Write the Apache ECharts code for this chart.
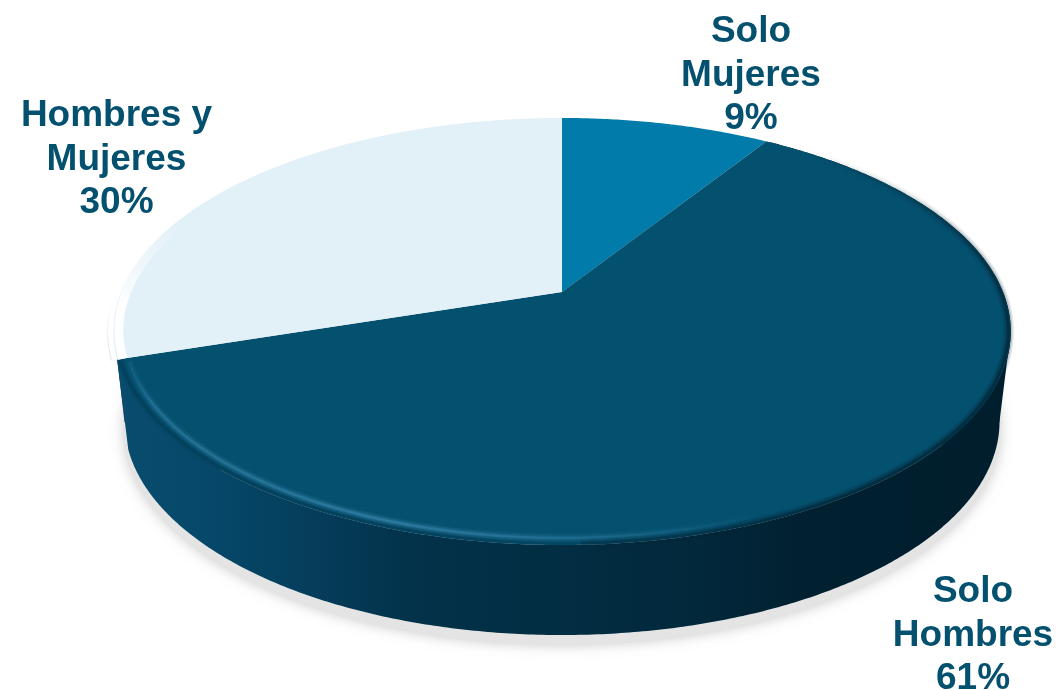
<!DOCTYPE html>
<html><head><meta charset="utf-8">
<style>html,body{margin:0;padding:0;background:#fff}#c{width:1056px;height:690px}</style>
<script src="https://cdn.jsdelivr.net/npm/echarts@6/dist/echarts.min.js"></script>
</head><body><div id="c"></div>
<script>
// Data
var categories = ['Solo\nMujeres', 'Solo\nHombres', 'Hombres y\nMujeres'];
var values = [9, 61, 30];

// Styles and layout (not data)
var sliceColors = ['#007BAA', '#04506F', '#E2F0F8'];
var labelAnchors = [[751, 10.5], [973, 570.5], [116.5, 94.5]];
var textColor = '#04506F';
var cx = 562, cy = 292, A = 441, P = -152.2, R = 0.185, DEPTH = 90, SHRINK = 0.975;

function project(deg, rho) {
  var t = deg * Math.PI / 180, u = rho * Math.sin(t), v = rho * Math.cos(t), w = 1 + R * v;
  return [cx + A * u / w, (P * v + cy) / w];
}
function lower(p) { return [cx + (p[0] - cx) * SHRINK, p[1] + DEPTH]; }
function arc(a0, a1, rho) {
  var pts = [], n = Math.max(2, Math.ceil(Math.abs(a1 - a0) * 2));
  for (var i = 0; i <= n; i++) pts.push(project(a0 + (a1 - a0) * i / n, rho));
  return pts;
}
var total = values.reduce(function (a, b) { return a + b; }, 0);
function range(i) {
  var s = 0;
  for (var k = 0; k < i; k++) s += values[k];
  return [s / total * 360, (s + values[i]) / total * 360];
}
function grad(stops, x0, y0, x1, y1) {
  return { type: 'linear', x: x0, y: y0, x2: x1, y2: y1, global: true,
    colorStops: stops.map(function (s) { return { offset: s[0], color: s[1] }; }) };
}
var wallFill = grad([[0, '#0A4C6E'], [0.1, '#06486A'], [0.2, '#053F5D'], [0.33, '#03324A'],
  [0.5, '#022D42'], [0.65, '#02283B'], [0.78, '#012030'], [1, '#001E2C']], 118, 0, 1010, 0);
var highlight = grad([[0, 'rgba(64,140,180,0.0)'], [0.04, 'rgba(64,140,180,0.55)'], [0.3, 'rgba(64,140,180,0.85)'],
  [0.5, 'rgba(64,140,180,0.5)'], [0.72, 'rgba(64,140,180,0)'], [1, 'rgba(64,140,180,0)']], 118, 0, 1010, 0);
var rimDark = grad([[0, 'rgba(1,30,44,0)'], [0.35, 'rgba(1,30,44,0.25)'], [1, 'rgba(1,30,44,0.85)']], 700, 250, 895, 445);
var rimLeft = grad([[0, 'rgba(3,50,74,0.5)'], [0.6, 'rgba(3,50,74,0.45)'], [1, 'rgba(3,50,74,0)']], 118, 0, 700, 0);
var whiteRim = grad([[0, 'rgba(255,255,255,0)'], [1, 'rgba(255,255,255,0.95)']], 0, 225, 0, 305);
var greyEdge = grad([[0, 'rgba(190,190,190,0)'], [1, 'rgba(190,190,190,0.45)']], 0, 300, 0, 355);

function renderShadow(params) {
  if (params.dataIndex !== 0) return null;
  var pts = arc(0, 360, 1).map(function (p) { var q = lower(p); return [q[0], q[1] + 9]; });
  return { type: 'polygon', shape: { points: pts },
    style: { fill: '#e4e4e4', shadowBlur: 14, shadowColor: 'rgba(170,170,170,0.7)' } };
}
function renderWall(params) {
  var i = params.dataIndex, r = range(i);
  if (i !== 1) return null; // only the front slice shows a wall
  var top = arc(r[0], r[1], 1), bot = top.map(lower).reverse();
  var fill = wallFill;
  var tangent = Math.acos(-R) * 180 / Math.PI;
  return { type: 'group', children: [
    { type: 'polygon', shape: { points: top.concat(bot) }, style: { fill: fill } },
    // straight silhouette between the upper and lower rims, at the widest points
    { type: 'polygon', shape: { points: [project(tangent, 1), lower(project(tangent, 1)),
      lower(project(tangent + 30, 1)), project(tangent + 30, 1)] }, style: { fill: fill } },
    { type: 'polygon', shape: { points: [project(r[1], 1), lower(project(360 - tangent, 1)),
      lower(project(r[1] - 30, 1)), project(r[1] - 30, 1)] }, style: { fill: fill } }
  ] };
}
function stroke(a0, a1, rho, color, width, opacity) {
  return { type: 'polyline', shape: { points: arc(a0, a1, rho) },
    style: { fill: null, stroke: color, lineWidth: width, opacity: opacity } };
}
function renderFace(params) {
  var i = params.dataIndex, r = range(i);
  var pts = [[cx, cy]].concat(arc(r[0], r[1], 1));
  var children = [{ type: 'polygon', shape: { points: pts }, style: { fill: sliceColors[i] } }];
  if (i === 1) {
    // soft bevel along the rim
    [[8, 0.25], [5, 0.4], [2.5, 0.6]].forEach(function (s) {
      children.push(stroke(150, r[1], 0.994, rimLeft, s[0], s[1]));
    });
    [[9, 0.1], [7, 0.15], [5, 0.2], [3, 0.35], [1.5, 0.4]].forEach(function (s) {
      children.push(stroke(128, r[1] - 1, 0.977, highlight, s[0], s[1]));
    });
    [[11, 0.12], [8, 0.2], [5, 0.3], [2.5, 0.5]].forEach(function (s) {
      children.push(stroke(r[0] + 2, 178, 0.995, rimDark, s[0], s[1]));
    });
  }
  if (i === 2) {
    children.push(stroke(r[0], r[0] + 62, 0.988, whiteRim, 9, 1));
    children.push(stroke(r[0], r[0] + 22, 1.012, greyEdge, 1, 1));
  }
  return { type: 'group', children: children };
}
function renderLabel(params, api) {
  var i = params.dataIndex, a = labelAnchors[i];
  return { type: 'text', style: { text: categories[i] + '\n' + api.value(0) + '%', x: a[0], y: a[1],
    fill: textColor, font: 'bold 37px "Liberation Sans", Arial, sans-serif',
    align: 'center', verticalAlign: 'top', lineHeight: 43.5 } };
}
function layer(fn, z) {
  return { type: 'custom', coordinateSystem: 'none', renderItem: fn, data: values, z: z, silent: true, animation: false };
}
var chart = echarts.init(document.getElementById('c'), null, { renderer: 'canvas' });
chart.setOption({
  animation: false,
  backgroundColor: '#ffffff',
  series: [layer(renderShadow, 1), layer(renderWall, 2), layer(renderFace, 3), layer(renderLabel, 4)]
});
</script></body></html>
